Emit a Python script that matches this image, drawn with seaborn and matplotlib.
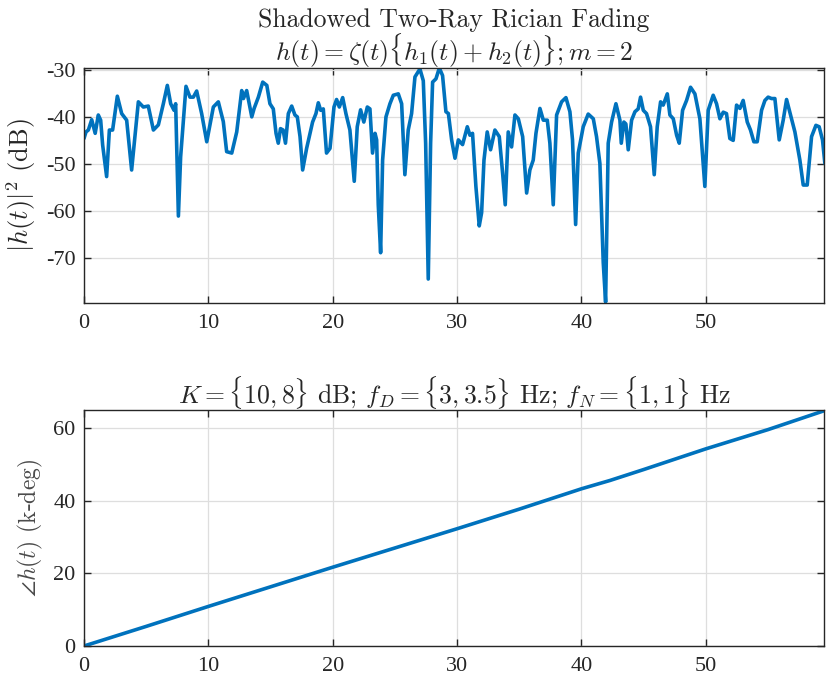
import numpy as np
import pandas as pd
import matplotlib
matplotlib.use("Agg")
import matplotlib.pyplot as plt
import seaborn as sns

# Envelope power |h(t)|^2 in dB versus time (s)
t_mag = [
    0.00, 0.16, 0.35, 0.62, 0.90, 1.15, 1.34, 1.50, 1.82, 2.04, 2.30, 2.68, 3.03, 3.43,
    3.83, 4.37, 4.77, 5.17, 5.58, 5.98, 6.38, 6.70, 6.97, 7.24, 7.37, 7.59, 7.77, 8.20,
    8.52, 8.79, 9.06, 9.46, 9.87, 10.40, 10.80, 11.20, 11.47, 11.88, 12.28, 12.68, 12.82,
    13.08, 13.49, 13.68, 14.02, 14.37, 14.70, 14.95, 15.22, 15.44, 15.62, 15.80, 16.01,
    16.20, 16.43, 16.70, 16.96, 17.15, 17.37, 17.58, 17.90, 18.38, 18.65, 18.84, 19.03,
    19.24, 19.50, 19.78, 20.10, 20.31, 20.53, 20.80, 21.06, 21.38, 21.73, 21.97, 22.24,
    22.50, 22.78, 22.99, 23.20, 23.40, 23.53, 23.66, 23.85, 24.01, 24.28, 24.60, 24.87,
    25.27, 25.54, 25.80, 26.07, 26.34, 26.61, 27.01, 27.28, 27.47, 27.68, 27.87, 28.03,
    28.30, 28.57, 28.83, 29.10, 29.30, 29.56, 29.83, 30.10, 30.44, 30.82, 31.03, 31.24,
    31.51, 31.78, 31.97, 32.16, 32.42, 32.69, 33.04, 33.39, 33.66, 33.87, 34.11, 34.38,
    34.65, 34.92, 35.27, 35.59, 35.85, 36.12, 36.34, 36.66, 36.93, 37.25, 37.46, 37.73,
    38.00, 38.40, 38.75, 39.07, 39.28, 39.53, 39.74, 40.14, 40.54, 40.95, 41.21, 41.48,
    41.75, 41.94, 42.15, 42.42, 42.77, 43.09, 43.20, 43.41, 43.57, 43.76, 44.03, 44.30,
    44.56, 44.75, 44.97, 45.23, 45.55, 45.85, 46.09, 46.36, 46.57, 46.90, 47.11, 47.38,
    47.65, 47.86, 48.13, 48.45, 48.77, 49.12, 49.52, 49.92, 50.19, 50.59, 50.86, 51.13,
    51.40, 51.66, 51.93, 52.20, 52.47, 52.74, 53.00, 53.33, 53.59, 53.86, 54.13, 54.48,
    54.75, 55.01, 55.28, 55.55, 55.90, 56.22, 56.49, 56.81, 57.16, 57.56, 57.83, 58.15,
    58.50, 58.85, 59.11, 59.38, 59.57,
]
mag_db = [
    -44.6, -43.2, -42.8, -40.6, -43.5, -39.6, -40.7, -46.0, -52.7, -42.8, -42.8, -35.6,
    -39.3, -40.7, -51.3, -36.8, -37.9, -37.7, -42.8, -41.7, -37.2, -33.3, -37.2, -38.6,
    -37.2, -61.1, -48.5, -33.5, -35.8, -35.8, -34.5, -39.3, -45.3, -37.9, -36.8, -41.0,
    -47.4, -47.7, -43.2, -34.4, -36.1, -34.4, -40.0, -38.2, -35.8, -32.6, -33.3, -37.2,
    -38.3, -43.5, -45.6, -42.5, -42.8, -45.6, -39.3, -37.7, -39.6, -40.0, -44.2, -51.3,
    -46.7, -41.1, -39.3, -37.0, -38.6, -38.3, -47.7, -46.7, -37.9, -36.3, -37.9, -35.9,
    -39.3, -42.8, -53.7, -42.1, -38.5, -41.1, -37.9, -38.3, -47.7, -43.5, -44.9, -58.7,
    -68.9, -49.2, -40.0, -37.2, -35.4, -35.1, -37.2, -52.3, -42.8, -39.3, -31.5, -29.8,
    -32.3, -45.6, -74.5, -45.6, -32.6, -31.9, -29.6, -31.2, -38.9, -39.3, -44.9, -48.8,
    -44.9, -45.9, -42.1, -43.9, -43.5, -54.8, -63.2, -60.4, -49.2, -43.2, -47.0, -42.8,
    -44.2, -52.0, -58.7, -43.2, -46.4, -39.6, -40.4, -44.2, -56.2, -51.3, -49.2, -43.5,
    -38.2, -40.7, -40.7, -45.6, -58.7, -39.6, -36.8, -35.9, -38.9, -44.9, -62.9, -47.7,
    -42.1, -39.4, -40.4, -44.2, -49.9, -71.0, -79.4, -45.6, -41.1, -37.2, -40.7, -45.6,
    -41.1, -41.5, -47.0, -40.7, -38.9, -38.3, -35.8, -38.6, -39.3, -42.1, -52.3, -42.1,
    -36.8, -37.5, -35.1, -39.6, -40.4, -43.9, -45.6, -38.6, -36.5, -33.7, -35.1, -40.4,
    -54.8, -38.6, -35.4, -37.2, -40.4, -39.0, -39.3, -44.6, -45.0, -37.5, -38.2, -36.5,
    -41.1, -42.8, -45.3, -45.3, -38.6, -36.5, -35.8, -36.1, -36.1, -44.9, -40.7, -36.3,
    -39.6, -43.2, -49.2, -54.5, -54.5, -44.2, -41.8, -42.1, -44.9, -49.9,
]

# Unwrapped phase of h(t) in thousands of degrees
t_phase = [0.0, 5.0, 10.0, 15.0, 20.0, 25.0, 30.0, 35.0, 40.0, 41.8, 42.3, 45.0, 50.0, 55.0, 59.6]
phase_kdeg = [0.0, 5.4, 10.9, 16.3, 21.7, 27.0, 32.3, 37.7, 43.3, 45.1, 45.6, 48.6, 54.3, 59.6, 64.9]

mag_df = pd.DataFrame({"t": t_mag, "db": mag_db})
phase_df = pd.DataFrame({"t": t_phase, "kdeg": phase_kdeg})

sns.set_style("ticks")
plt.rcParams["font.family"] = ["Liberation Serif", "DejaVu Serif"]
plt.rcParams["mathtext.fontset"] = "cm"
plt.rcParams["axes.unicode_minus"] = False

line_color = "#0072BD"
ink = "#262626"

fig = plt.figure(figsize=(8.26, 6.81), dpi=100)
W, H = 826, 681
ax1 = fig.add_axes([84 / W, 1 - 303 / H, 740 / W, 235 / H])
ax2 = fig.add_axes([84 / W, 1 - 646 / H, 740 / W, 236 / H])

sns.lineplot(data=mag_df, x="t", y="db", ax=ax1, color=line_color, linewidth=2.6)
sns.lineplot(data=phase_df, x="t", y="kdeg", ax=ax2, color=line_color, linewidth=2.6)

for ax in (ax1, ax2):
    ax.set_xlim(0, 59.5)
    ax.set_xticks([0, 10, 20, 30, 40, 50])
    ax.grid(True, color="#dedede", linewidth=0.9)
    ax.set_axisbelow(True)
    for s in ax.spines.values():
        s.set_color(ink)
        s.set_linewidth(1.0)
        s.set_visible(True)
    ax.tick_params(direction="in", length=5, width=1.0, colors=ink,
                   top=True, right=True, labelsize=16)
    ax.tick_params(axis="x", pad=8)
    ax.tick_params(axis="y", pad=6)
    ax.set_xlabel("")

ax1.set_ylim(-79.6, -29.6)
ax1.set_yticks([-70, -60, -50, -40, -30])
ax2.set_ylim(0, 65)
ax2.set_yticks([0, 20, 40, 60])

ax1.set_ylabel(r"$|h(t)|^2$ (dB)", fontsize=19, color=ink, family="cmr10", labelpad=6)
ax2.set_ylabel(r"$\angle h(t)$ (k-deg)", fontsize=17, color="#4a4a4a", family="cmr10", labelpad=6)

ax1.set_title("Shadowed Two-Ray Rician Fading\n" + r"$h(t)=\zeta(t)\{h_1(t)+h_2(t)\};m=2$",
              fontsize=18.5, color=ink, family="cmr10", pad=5, linespacing=1.0)
ax2.set_title(r"$K=\{10,8\}$ dB; $f_D=\{3,3.5\}$ Hz; $f_N=\{1,1\}$ Hz",
              fontsize=18.5, color=ink, family="cmr10", pad=5)

fig.savefig("out.png", dpi=100, facecolor="white")
